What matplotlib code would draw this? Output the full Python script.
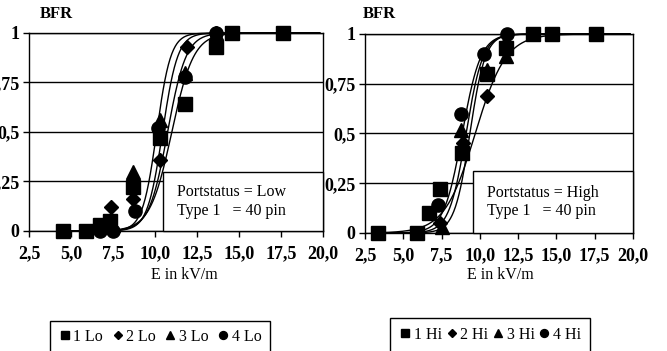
# BFR versus field strength for the two port states, with fitted curves
import numpy as np
import matplotlib
matplotlib.use('Agg')
import matplotlib.pyplot as plt
from matplotlib.patches import Rectangle

plt.rcParams['font.family'] = ['Liberation Serif', 'DejaVu Serif']

# measured points, Portstatus = Low
lo_sq_x = [4.5, 5.9, 6.7, 7.3, 8.7, 10.3, 11.8, 13.6, 14.6, 17.6]
lo_sq_y = [0, 0, 0.03, 0.05, 0.22, 0.47, 0.64, 0.93, 1.0, 1.0]
lo_di_x = [7.4, 8.7, 10.3, 11.9, 13.6]
lo_di_y = [0.12, 0.16, 0.36, 0.93, 1.0]
lo_tr_x = [7.5, 8.7, 10.3, 11.8, 13.6]
lo_tr_y = [0.03, 0.30, 0.56, 0.80, 1.0]
lo_ci_x = [6.7, 7.5, 8.8, 10.2, 11.8, 13.6]
lo_ci_y = [0, 0, 0.10, 0.52, 0.78, 1.0]

# measured points, Portstatus = High
hi_sq_x = [3.35, 5.9, 6.7, 7.4, 8.85, 10.5, 11.7, 13.5, 14.7, 17.6]
hi_sq_y = [0, 0, 0.10, 0.22, 0.40, 0.80, 0.93, 1.0, 1.0, 1.0]
hi_di_x = [7.4, 8.9, 10.5, 11.7]
hi_di_y = [0.05, 0.45, 0.69, 0.95]
hi_tr_x = [7.5, 8.8, 10.5, 11.7]
hi_tr_y = [0.03, 0.52, 0.82, 0.89]
hi_ci_x = [7.3, 8.8, 10.3, 11.8]
hi_ci_y = [0.14, 0.60, 0.90, 1.0]

# logistic fit parameters (50% point, width) for each series
lo_fit_mid = [10.75, 10.45, 10.1, 11.0]
lo_fit_w = [0.55, 0.45, 0.42, 0.65]
hi_fit_mid = [8.85, 9.7, 9.1, 9.35]
hi_fit_w = [0.6, 1.0, 0.55, 0.5]

lo_labels = ['1 Lo', '2 Lo', '3 Lo', '4 Lo']
hi_labels = ['1 Hi', '2 Hi', '3 Hi', '4 Hi']
x_ticks = [2.5, 5.0, 7.5, 10.0, 12.5, 15.0, 17.5, 20.0]
y_ticks = [0, 0.25, 0.5, 0.75, 1]
y_ticklabels = ['0', '0,25', '0,5', '0,75', '1']

markers = ['s', 'D', '^', 'o']
msizes = [9.5, 7.5, 9.5, 9.5]


def logistic(x, mid, w):
    return 1 / (1 + np.exp(-(x - mid) / w))


def panel(ax, pts, mids, widths, x0, labels, status, box_x, box_top, text_x):
    handles = []
    for (px, py), mk, ms, lab, mid, w in zip(pts, markers, msizes,
                                             labels, mids, widths):
        xs = np.linspace(x0, 19.8, 300)
        ax.plot(xs, logistic(xs, mid, w), color='black', lw=1.0, zorder=2,
                clip_on=False)
        h, = ax.plot(px, py, linestyle='none', marker=mk, markersize=ms,
                     color='black', label=lab, zorder=4, clip_on=False)
        handles.append(h)
    ax.set_xlim(2.5, 20.0)
    ax.set_ylim(0, 1)
    ax.set_xticks(x_ticks)
    ax.set_xticklabels([f'{v:.1f}'.replace('.', ',') for v in x_ticks],
                       fontweight='bold', fontsize=13)
    ax.set_yticks(y_ticks)
    ax.set_yticklabels(y_ticklabels, fontweight='bold', fontsize=13)
    ax.tick_params(direction='out', length=4, width=1, color='black')
    ax.tick_params(axis='x', pad=6)
    ax.tick_params(axis='y', pad=3)
    ax.grid(axis='y', color='black', lw=1)
    ax.set_axisbelow(True)
    for s in ax.spines.values():
        s.set_color('black')
        s.set_linewidth(1)
    ax.patch.set_alpha(0)
    ax.add_patch(Rectangle((box_x, 0), 1 - box_x, box_top,
                           transform=ax.transAxes, facecolor='white',
                           edgecolor='black', lw=1, zorder=3, clip_on=False))
    ax.text(text_x, box_top / 2, f'Portstatus = {status}\nType 1   = 40 pin',
            transform=ax.transAxes, fontsize=11.5, va='center', ha='left',
            zorder=3.5, linespacing=1.2)
    return handles


fig = plt.figure(figsize=(6.67, 3.51), dpi=100)
ax1 = fig.add_axes([0.0435, 0.3419, 0.4408, 0.5641])
ax2 = fig.add_axes([0.5472, 0.3362, 0.4018, 0.5670])

h1 = panel(ax1, [(lo_sq_x, lo_sq_y), (lo_di_x, lo_di_y), (lo_tr_x, lo_tr_y),
                 (lo_ci_x, lo_ci_y)], lo_fit_mid, lo_fit_w, 4.5, lo_labels,
           'Low', 0.456, 0.298, 0.503)
h2 = panel(ax2, [(hi_sq_x, hi_sq_y), (hi_di_x, hi_di_y), (hi_tr_x, hi_tr_y),
                 (hi_ci_x, hi_ci_y)], hi_fit_mid, hi_fit_w, 3.35, hi_labels,
           'High', 0.403, 0.31, 0.455)

fig.text(40 / 667, 1 - 14 / 351, 'BFR', fontweight='bold', fontsize=12,
         ha='left', va='center')
fig.text(363 / 667, 1 - 14 / 351, 'BFR', fontweight='bold', fontsize=12,
         ha='left', va='center')
fig.text(184 / 667, 1 - 275 / 351, 'E in kV/m', fontsize=11.5,
         ha='center', va='center')
fig.text(500 / 667, 1 - 275 / 351, 'E in kV/m', fontsize=11.5,
         ha='center', va='center')

leg_kw = dict(ncol=4, loc='upper center', frameon=True, fancybox=False,
              edgecolor='black', framealpha=1, fontsize=11.5, markerscale=0.6,
              handlelength=0.8, handletextpad=0.15, borderaxespad=0)
leg1 = fig.legend(handles=h1, bbox_to_anchor=(160 / 667, 1 - 321 / 351),
                  borderpad=0.5, columnspacing=0.5, **leg_kw)
leg2 = fig.legend(handles=h2, bbox_to_anchor=(490 / 667, 1 - 318 / 351),
                  borderpad=0.55, columnspacing=0.2, **leg_kw)
for leg in (leg1, leg2):
    leg.get_frame().set_linewidth(1)

fig.savefig('out.png', dpi=100)
